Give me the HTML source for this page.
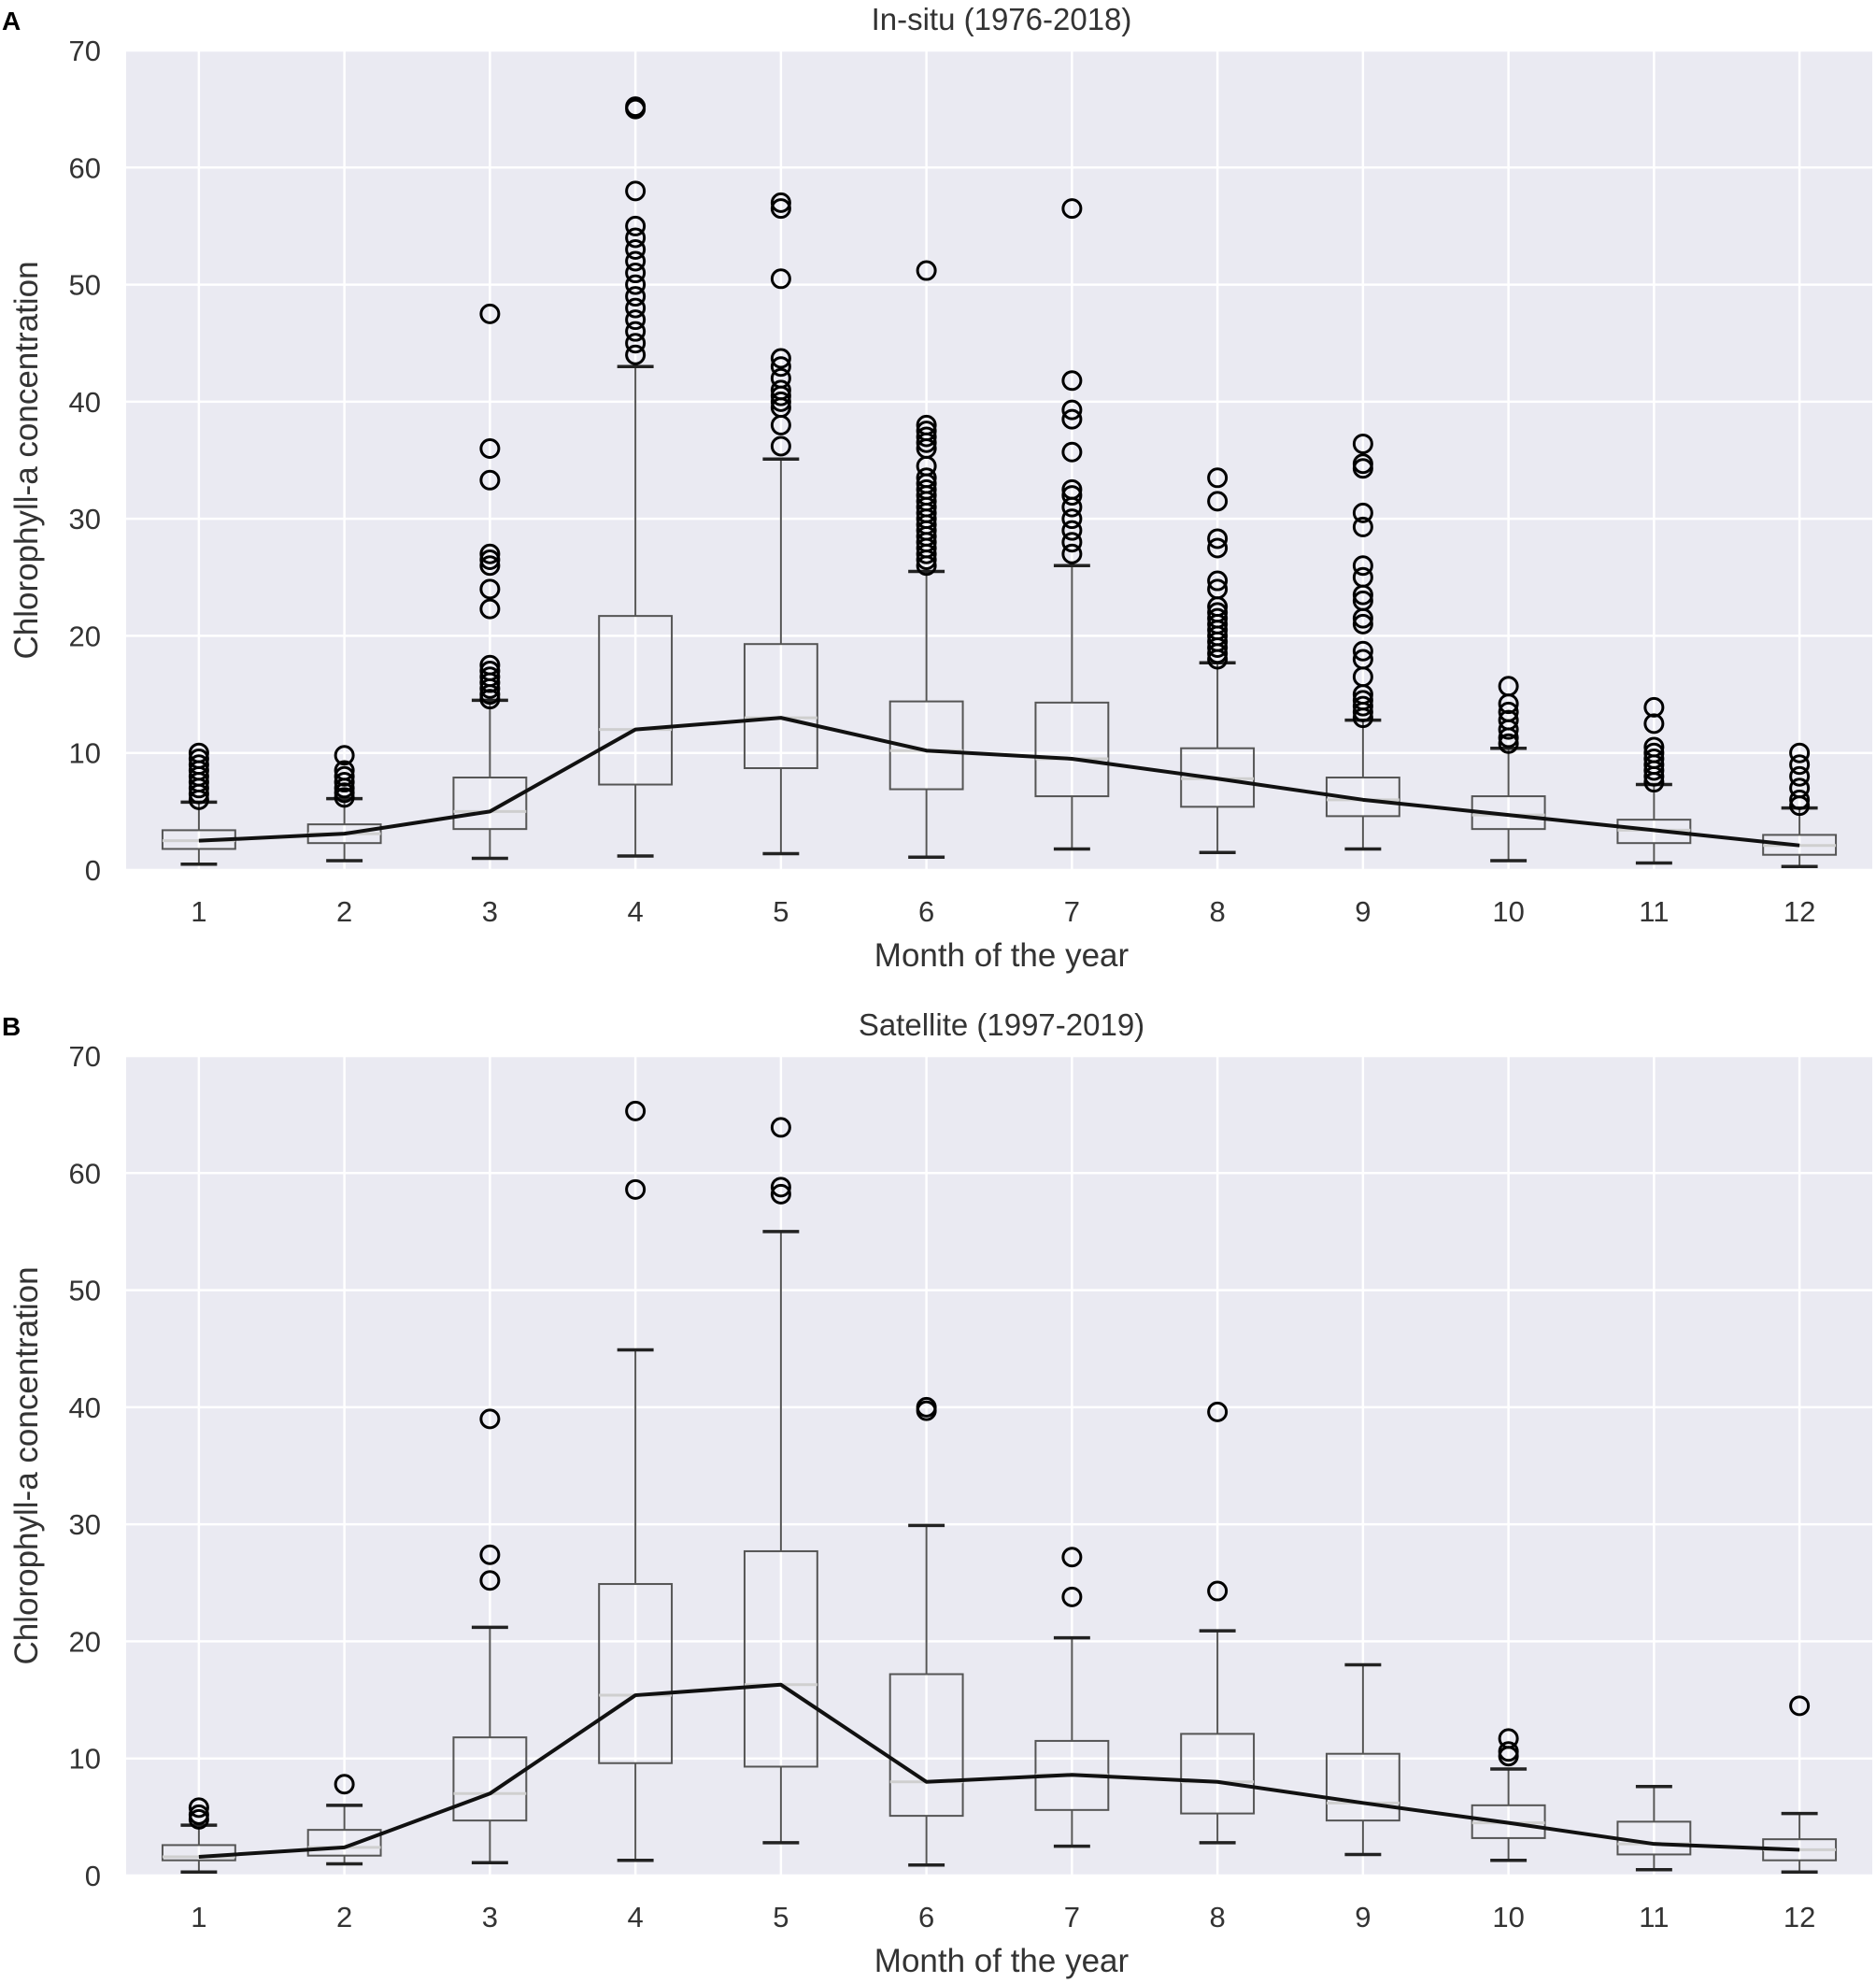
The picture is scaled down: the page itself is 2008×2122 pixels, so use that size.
<!DOCTYPE html>
<html><head><meta charset="utf-8"><style>
body{margin:0;background:#fff;}
svg{display:block;font-family:"Liberation Sans",sans-serif;}
</style></head><body>
<svg id="chart" width="2008" height="2122" viewBox="0 0 2008 2122" xmlns="http://www.w3.org/2000/svg"></svg>
<script>
const months = [1,2,3,4,5,6,7,8,9,10,11,12];
const yTicks = [0,10,20,30,40,50,60,70];
// In-situ stats: [whisker low, q1, median, q3, whisker high]
const insituStats = [
 [0.5,1.8,2.5,3.4,5.8],[0.8,2.3,3.1,3.9,6.1],[1.0,3.5,5.0,7.9,14.5],[1.2,7.3,12.0,21.7,43.0],
 [1.4,8.7,13.0,19.3,35.1],[1.1,6.9,10.2,14.4,25.5],[1.8,6.3,9.5,14.3,26.0],[1.5,5.4,7.8,10.4,17.7],
 [1.8,4.6,6.0,7.9,12.8],[0.8,3.5,4.7,6.3,10.4],[0.6,2.3,3.4,4.3,7.3],[0.3,1.3,2.1,3.0,5.3]];
const insituOutliers = [
 [6,6.5,7,7.5,8,8.5,9,9.5,10],
 [6.2,6.6,7,7.5,8,8.5,9.8],
 [14.6,15,15.5,16,16.5,17,17.5,22.3,24,26,26.5,27,33.3,36,47.5],
 [44,45,46,47,48,49,50,51,52,53,54,55,58,65,65.2],
 [36.2,38,39.5,40,40.5,41,42,43,43.7,50.5,56.5,57],
 [26,26.5,27,27.5,28,28.5,29,29.5,30,30.5,31,31.5,32,32.5,33,33.5,34.5,36,36.5,37,37.5,38,51.2],
 [27,28,29,30,31,32,32.5,35.7,38.5,39.3,41.8,56.5],
 [18,18.5,19,19.5,20,20.5,21,21.5,22,22.5,24,24.7,27.5,28.3,31.5,33.5],
 [13,13.5,14,14.5,15,16.5,18,18.7,21,21.5,23,23.5,25,26,29.3,30.5,34.3,34.7,36.4],
 [10.8,11.3,12,12.8,13.5,14.2,15.7],
 [7.5,8,8.5,9,9.5,10,10.5,12.5,13.9],
 [5.5,6,7,8,9,10]];
// Satellite stats
const satStats = [
 [0.3,1.3,1.6,2.6,4.3],[1.0,1.7,2.4,3.9,6.0],[1.1,4.7,7.0,11.8,21.2],[1.3,9.6,15.4,24.9,44.9],
 [2.8,9.3,16.3,27.7,55.0],[0.9,5.1,8.0,17.2,29.9],[2.5,5.6,8.6,11.5,20.3],[2.8,5.3,8.0,12.1,20.9],
 [1.8,4.7,6.2,10.4,18.0],[1.3,3.2,4.5,6.0,9.1],[0.5,1.8,2.7,4.6,7.6],[0.3,1.3,2.2,3.1,5.3]];
const satOutliers = [[4.8,5.2,5.8],[7.8],[25.2,27.4,39],[58.6,65.3],[58.2,58.8,63.9],[39.7,40],[23.8,27.2],[24.3,39.6],[],[10.2,10.6,11.7],[],[14.5]];

const NS="http://www.w3.org/2000/svg";
const svg=document.getElementById('chart');
function mk(tag,attrs,parent){const e=document.createElementNS(NS,tag);for(const k in attrs)e.setAttribute(k,attrs[k]);(parent||svg).appendChild(e);return e;}

function panel(key,letter,title,stats,outliers,top,bottom){
 const L=135,R=2004;
 const x=v=>L+(v-0.5)/12*(R-L);
 const y=v=>bottom-v/70*(bottom-top);
 const g=mk('g',{});
 
 
 const bg=mk('rect',{x:L,y:top,width:R-L,height:bottom-top,fill:'#eaeaf2'},g);
 
 
 yTicks.forEach(t=>{
  const ln=mk('line',{x1:L,x2:R,y1:y(t),y2:y(t),stroke:'#fff','stroke-width':2.5},g);
  
  
  const tx=mk('text',{x:108,y:y(t)+11,'text-anchor':'end','font-size':31,fill:'#333'},g);
  tx.textContent=t;
  
  
 });
 months.forEach(m=>{
  const ln=mk('line',{x1:x(m),x2:x(m),y1:top,y2:bottom,stroke:'#fff','stroke-width':2.5},g);
  
  
  const tx=mk('text',{x:x(m),y:bottom+55,'text-anchor':'middle','font-size':31,fill:'#333'},g);
  tx.textContent=m;
  
  
 });
 const bw=0.5/12*(R-L), cw=0.25/12*(R-L);
 stats.forEach((s,i)=>{
  const cx=x(months[i]);
  const bg2=mk('g',{},g);
  
  
  mk('line',{x1:cx,x2:cx,y1:y(s[0]),y2:y(s[1]),stroke:'#555','stroke-width':2},bg2);
  mk('line',{x1:cx,x2:cx,y1:y(s[3]),y2:y(s[4]),stroke:'#555','stroke-width':2},bg2);
  mk('line',{x1:cx-cw/2,x2:cx+cw/2,y1:y(s[0]),y2:y(s[0]),stroke:'#222','stroke-width':3.5},bg2);
  mk('line',{x1:cx-cw/2,x2:cx+cw/2,y1:y(s[4]),y2:y(s[4]),stroke:'#222','stroke-width':3.5},bg2);
  mk('rect',{x:cx-bw/2,y:y(s[3]),width:bw,height:y(s[1])-y(s[3]),fill:'none',stroke:'#555','stroke-width':2},bg2);
  mk('line',{x1:cx-bw/2,x2:cx+bw/2,y1:y(s[2]),y2:y(s[2]),stroke:'#cfcfcf','stroke-width':3},bg2);
  outliers[i].forEach(o=>{
   const c=mk('circle',{cx:cx,cy:y(o),r:9.5,fill:'none',stroke:'#000','stroke-width':3},bg2);
   
   
  });
 });
 const pl=mk('polyline',{points:stats.map((s,i)=>x(months[i])+','+y(s[2])).join(' '),fill:'none',stroke:'#111','stroke-width':4,'stroke-linejoin':'round'},g);
 
 
 const tt=mk('text',{x:1072,y:top-22,'text-anchor':'middle','font-size':33,fill:'#333'},g);
 tt.textContent=title;
 
 
 const lt=mk('text',{x:2,y:top-22,'font-size':28,'font-weight':'bold',fill:'#000'},g);
 lt.textContent=letter;
 
 
 const xl=mk('text',{x:1072,y:bottom+103,'text-anchor':'middle','font-size':35,fill:'#333'},g);
 xl.textContent='Month of the year';
 
 
 const ym=(top+bottom)/2;
 const yl=mk('text',{x:40,y:ym,'text-anchor':'middle','font-size':35,fill:'#333',transform:'rotate(-90 40 '+ym+')'},g);
 yl.textContent='Chlorophyll-a concentration';
 
 
}
panel('insitu','A','In-situ (1976-2018)',insituStats,insituOutliers,54,931);
panel('satellite','B','Satellite (1997-2019)',satStats,satOutliers,1130,2007);
</script>
</body></html>
